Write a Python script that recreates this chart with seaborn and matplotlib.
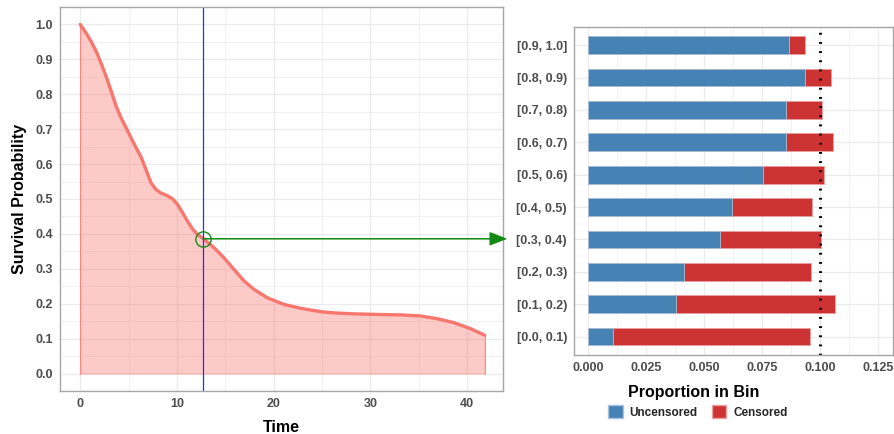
import matplotlib
matplotlib.use("Agg")
import matplotlib.pyplot as plt
from matplotlib.patches import Patch
from matplotlib.ticker import MultipleLocator
import seaborn as sns
import pandas as pd

# survival curve
time = [0.0, 0.62, 1.13, 1.65, 2.16, 2.68, 3.2, 3.71, 4.23, 4.74, 5.26, 5.77,
        6.29, 6.8, 7.32, 7.84, 8.35, 9.04, 9.56, 10.07, 10.59, 11.1, 11.62,
        12.13, 12.75, 13.85, 14.88, 15.9, 16.94, 17.97, 19.35, 21.06, 22.78,
        23.8, 25.2, 26.7, 28.3, 31.03, 33.1, 35.15, 36.9, 38.6, 40.3, 41.8]
surv = [1.0, 0.975, 0.951, 0.923, 0.889, 0.851, 0.809, 0.766, 0.732, 0.704,
        0.675, 0.647, 0.62, 0.584, 0.546, 0.527, 0.517, 0.509, 0.5, 0.484,
        0.46, 0.436, 0.414, 0.398, 0.386, 0.36, 0.331, 0.298, 0.265, 0.241,
        0.217, 0.198, 0.187, 0.182, 0.176, 0.173, 0.171, 0.169, 0.168, 0.165,
        0.157, 0.146, 0.129, 0.11]
t_mark = 12.7
s_mark = 0.386

# calibration bins (top to bottom)
bins = ['[0.9, 1.0]', '[0.8, 0.9)', '[0.7, 0.8)', '[0.6, 0.7)', '[0.5, 0.6)',
        '[0.4, 0.5)', '[0.3, 0.4)', '[0.2, 0.3)', '[0.1, 0.2)', '[0.0, 0.1)']
uncensored = [0.0866, 0.0934, 0.0853, 0.0853, 0.0753, 0.0619, 0.0568, 0.0412, 0.0378, 0.0106]
total = [0.0935, 0.1047, 0.1009, 0.1056, 0.1016, 0.0964, 0.1004, 0.096, 0.1062, 0.0957]
target = 0.1

sns.set_theme(style="white")
plt.rcParams['font.family'] = ['Liberation Sans', 'DejaVu Sans']
plt.rcParams['font.weight'] = 'bold'

TICK_COL = '#4D4D4D'
GRID_COL = '#EBEBEB'
BORDER_COL = '#A6A6A6'
BLUE = '#4682B4'
RED = '#CD3333'


def style_axes(ax):
    for s in ax.spines.values():
        s.set_color(BORDER_COL)
        s.set_linewidth(1.0)
    ax.tick_params(axis='both', which='major', length=3, width=0.8, color='#555555',
                   labelsize=9, labelcolor=TICK_COL, pad=2)
    ax.tick_params(axis='both', which='minor', length=0)
    for lab in ax.get_xticklabels() + ax.get_yticklabels():
        lab.set_fontweight('bold')
    ax.grid(True, which='major', color=GRID_COL, lw=0.9)
    ax.grid(True, which='minor', color=GRID_COL, lw=0.5)
    ax.set_axisbelow(True)


fig = plt.figure(figsize=(8.94, 4.34), dpi=100)

# left panel: survival curve
ax1 = fig.add_axes([0.0671, 0.0991, 0.4955, 0.8848])
surv_df = pd.DataFrame({'time': time, 'surv': surv})
ax1.fill_between(surv_df['time'], 0, surv_df['surv'], color='#F8766D', alpha=0.38,
                 edgecolor='#F8766D', linewidth=0.8)
ax1.plot([time[0], time[0]], [0, surv[0]], color='#F8766D', lw=0.8, alpha=0.7)
ax1.plot([time[-1], time[-1]], [0, surv[-1]], color='#F8766D', lw=0.8, alpha=0.7)
sns.lineplot(data=surv_df, x='time', y='surv', color='#F8766D', lw=2.4, ax=ax1)
ax1.axvline(t_mark, color='#2B2BFF', lw=0.9)
ax1.plot([t_mark], [s_mark], marker='o', ms=11, mfc='none', mec='#1A8A1A', mew=1.0)
ax1.annotate('', xy=(44.15, s_mark), xytext=(t_mark, s_mark), annotation_clip=False,
             arrowprops=dict(arrowstyle='-|>,head_length=0.9,head_width=0.35',
                             color='#138A13', lw=1.1, shrinkA=0, shrinkB=0))
ax1.set_xlim(-2.09, 43.7)
ax1.set_ylim(-0.05, 1.05)
ax1.set_xticks([0, 10, 20, 30, 40])
ax1.set_yticks([i / 10 for i in range(11)])
ax1.set_yticklabels([f'{i / 10:.1f}' for i in range(11)])
ax1.xaxis.set_minor_locator(MultipleLocator(5))
ax1.yaxis.set_minor_locator(MultipleLocator(0.05))
style_axes(ax1)
ax1.set_xlabel('Time', fontsize=11.5, fontweight='bold', color='black', labelpad=7)
ax1.set_ylabel('Survival Probability', fontsize=11.5, fontweight='bold', color='black', labelpad=6)

# right panel: proportion per bin
ax2 = fig.add_axes([0.642, 0.182, 0.3565, 0.7565])
bar_df = pd.DataFrame({'bin': bins, 'uncensored': uncensored, 'total': total})
sns.barplot(data=bar_df, x='total', y='bin', order=bins, orient='h', color=RED,
            saturation=1, width=0.55, edgecolor='#E8A0A0', linewidth=0.6, ax=ax2)
sns.barplot(data=bar_df, x='uncensored', y='bin', order=bins, orient='h', color=BLUE,
            saturation=1, width=0.55, edgecolor='#A8C4DC', linewidth=0.6, ax=ax2)
ax2.axvline(target, color='black', lw=2.2, ls=(0, (0.6, 2.4)), dash_capstyle='butt')
ax2.set_xlim(-0.0062, 0.1312)
ax2.set_ylim(9.57, -0.57)
ax2.set_xticks([0, 0.025, 0.05, 0.075, 0.1, 0.125])
ax2.set_xticklabels(['0.000', '0.025', '0.050', '0.075', '0.100', '0.125'])
ax2.xaxis.set_minor_locator(MultipleLocator(0.0125))
style_axes(ax2)
ax2.grid(True, axis='y', which='major', color=GRID_COL, lw=0.9)
ax2.set_xlabel('')
ax2.set_ylabel('')

fig.text(694 / 894, 1 - 392 / 434, 'Proportion in Bin', ha='center', va='center',
         fontsize=11.5, fontweight='bold', color='black')
handles = [Patch(facecolor=BLUE, edgecolor='#A8C4DC', label='Uncensored'),
           Patch(facecolor=RED, edgecolor='#E8A0A0', label='Censored')]
fig.legend(handles=handles, loc='center', bbox_to_anchor=(698 / 894, 1 - 412 / 434), ncol=2,
           frameon=False, prop={'size': 8.5, 'weight': 'bold'}, handlelength=1.2,
           handleheight=1.3, handletextpad=0.6, columnspacing=1.2, borderpad=0)

fig.savefig('out.png', dpi=100)
